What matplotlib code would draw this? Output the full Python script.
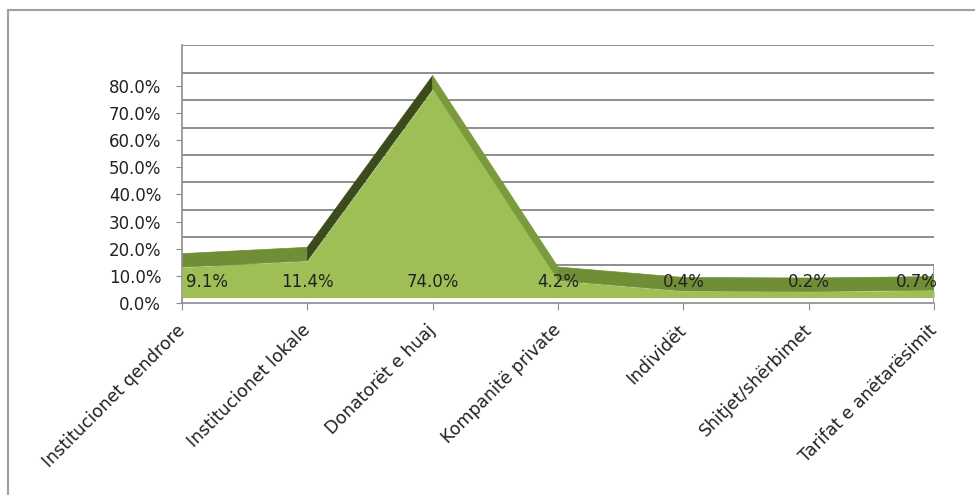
import matplotlib
matplotlib.use("Agg")
from matplotlib import pyplot as plt
from matplotlib.patches import Polygon
from matplotlib.lines import Line2D
from matplotlib.transforms import ScaledTranslation
import numpy as np

categories = ["Institucionet qendrore", "Institucionet lokale", "Donatorët e huaj",
              "Kompanitë private", "Individët", "Shitjet/shërbimet", "Tarifat e anëtarësimit"]
values = [9.1, 11.4, 74.0, 4.2, 0.4, 0.2, 0.7]
value_labels = ["9.1%", "11.4%", "74.0%", "4.2%", "0.4%", "0.2%", "0.7%"]
y_ticks = [0, 10, 20, 30, 40, 50, 60, 70, 80]
y_tick_labels = ["0.0%", "10.0%", "20.0%", "30.0%", "40.0%", "50.0%", "60.0%", "70.0%", "80.0%"]
wall_levels = [10, 20, 30, 40, 50, 60, 70, 80, 90]

# fake 3d look (Excel 3-D area)
LIFT = 4.0      # face / wall base sits a bit above the front axis
PERSP = 1.01
DEPTH = 5.0     # thickness of the top band

FACE = "#9dbf56"
TOP = "#6f8e35"
DARK = "#3c4b1c"
DOWN = "#7b9a3b"
GRID = "#8e8e8e"

plt.rcParams['font.family'] = ['DejaVu Sans']

fig = plt.figure(figsize=(9.75, 4.95), dpi=100)
ax = fig.add_axes([182 / 975, (495 - 303) / 495, 752 / 975, 95 * 2.715 / 495])
ax.set_xlim(0, 6)
ax.set_ylim(0, 95)

x = np.arange(len(values))
v = np.array(values)
front = LIFT + PERSP * v

# back wall gridlines
for lvl in wall_levels:
    ax.plot([0, 6], [LIFT + PERSP * lvl] * 2, color=GRID, lw=1.4, zorder=1)
ax.plot([6, 6], [0, LIFT + PERSP * 10], color=GRID, lw=1.2, zorder=1)

# top band
for i in range(len(x) - 1):
    slope = front[i + 1] - front[i]
    if slope > 20:
        col = DARK
    elif slope < -20:
        col = DOWN
    else:
        col = TOP
    quad = [(x[i], front[i]), (x[i + 1], front[i + 1]),
            (x[i + 1], front[i + 1] + DEPTH), (x[i], front[i] + DEPTH)]
    ax.add_patch(Polygon(quad, closed=True, facecolor=col, edgecolor=col, lw=0.5, zorder=2))

# front face
ax.fill_between(x, LIFT - 2, front, color=FACE, lw=0, zorder=3)

for i, lab in enumerate(value_labels):
    ha = "center"
    xx = x[i]
    if i == 0:
        ha = "left"
        xx = x[i] + 0.03
    elif i == len(x) - 1:
        ha = "right"
        xx = x[i] + 0.03
    ax.text(xx, 7.8, lab, ha=ha, va="center", fontsize=12, color="#222222", zorder=5, clip_on=False)

for s in ["top", "right"]:
    ax.spines[s].set_visible(False)
ax.spines["left"].set_color(GRID)
ax.spines["bottom"].set_color(GRID)
ax.spines["left"].set_linewidth(1.2)
ax.spines["bottom"].set_linewidth(1.2)

ax.set_yticks(y_ticks)
ax.set_yticklabels(y_tick_labels, fontsize=12, color="#222222")
ax.set_xticks(x)
ax.set_xticklabels(categories, rotation=45, ha="right", va="top", rotation_mode="anchor",
                   fontsize=12.5, color="#222222")
ax.tick_params(axis="y", length=4, color=GRID, pad=11)
ax.tick_params(axis="x", length=5, color=GRID, pad=8)
shift = ScaledTranslation(-6 / 100, 0, fig.dpi_scale_trans)
for t in ax.get_xticklabels():
    t.set_transform(t.get_transform() + shift)

# outer chart border
fig.add_artist(Line2D([8 / 975, 8 / 975], [0, 1 - 10 / 495], color="#a0a0a0", lw=1.5))
fig.add_artist(Line2D([8 / 975, 1], [1 - 10 / 495, 1 - 10 / 495], color="#a0a0a0", lw=1.5))

fig.savefig("out.png", dpi=100)
